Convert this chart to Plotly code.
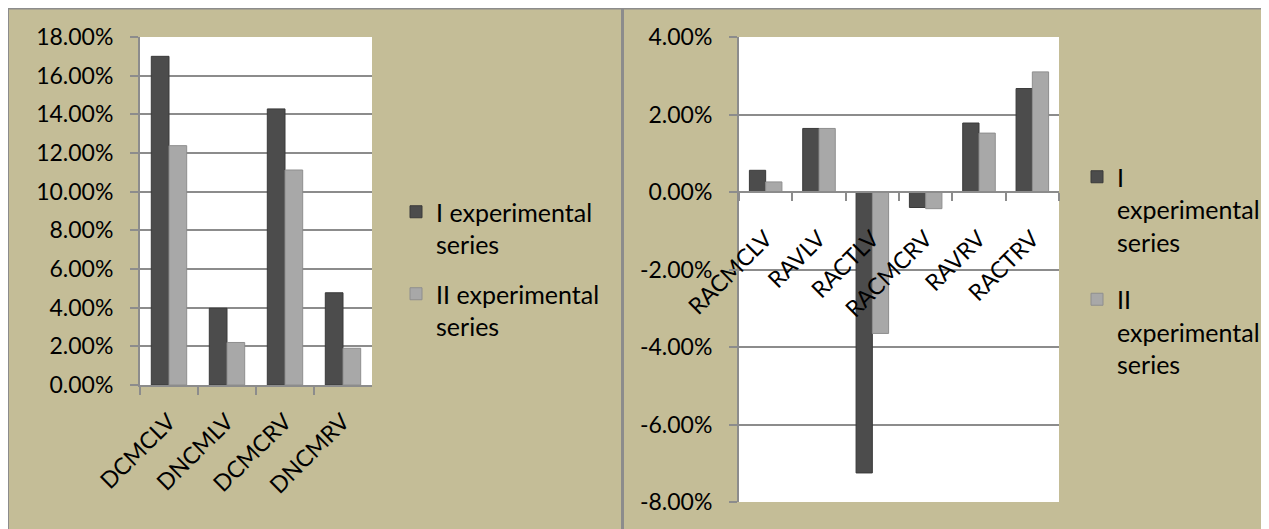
import plotly.graph_objects as go

# page body has an 8px default margin; figure occupies the rest of the window
OFF = 8
W, H = 1269 - OFF, 529 - OFF

# ---- data ----
left_categories = ["DCMCLV", "DNCMLV", "DCMCRV", "DNCMRV"]
left_series_1 = [17.00, 3.97, 14.28, 4.77]
left_series_2 = [12.38, 2.20, 11.12, 1.90]

right_categories = ["RACMCLV", "RAVLV", "RACTLV", "RACMCRV", "RAVRV", "RACTRV"]
right_series_1 = [0.56, 1.64, -7.25, -0.40, 1.78, 2.67]
right_series_2 = [0.26, 1.64, -3.65, -0.43, 1.52, 3.10]

left_tickvals = [0, 2, 4, 6, 8, 10, 12, 14, 16, 18]
left_ticktext = ["0.00%", "2.00%", "4.00%", "6.00%", "8.00%", "10.00%",
                 "12.00%", "14.00%", "16.00%", "18.00%"]
right_tickvals = [-8, -6, -4, -2, 0, 2, 4]
right_ticktext = ["-8.00%", "-6.00%", "-4.00%", "-2.00%", "0.00%", "2.00%", "4.00%"]

series_names_left = ["I experimental<br>series", "II experimental<br>series"]
series_names_right = ["I<br>experimental<br>series", "II<br>experimental<br>series"]

# ---- styling ----
TAN = "#C4BD97"
GRID = "#8C8C8C"
DARK = "#4C4C4C"
LIGHT = "#A8A8A8"
FONT = "Lato"
FS = 23
LFS = 25

def px_x(p):
    """screen pixel -> paper fraction"""
    return (p - OFF) / W

def px_y(p):
    return 1 - (p - OFF) / H

fig = go.Figure()

fig.add_trace(go.Bar(x=left_categories, y=left_series_1, name=series_names_left[0],
                     marker=dict(color=DARK, line=dict(color="#3A3A3A", width=1)),
                     xaxis="x", yaxis="y", legend="legend", legendgroup="L1"))
fig.add_trace(go.Bar(x=left_categories, y=left_series_2, name=series_names_left[1],
                     marker=dict(color=LIGHT, line=dict(color="#8E8E8E", width=1)),
                     xaxis="x", yaxis="y", legend="legend", legendgroup="L2"))
fig.add_trace(go.Bar(x=right_categories, y=right_series_1, name=series_names_right[0],
                     marker=dict(color=DARK, line=dict(color="#3A3A3A", width=1)),
                     xaxis="x2", yaxis="y2", legend="legend2", legendgroup="R1"))
fig.add_trace(go.Bar(x=right_categories, y=right_series_2, name=series_names_right[1],
                     marker=dict(color=LIGHT, line=dict(color="#8E8E8E", width=1)),
                     xaxis="x2", yaxis="y2", legend="legend2", legendgroup="R2"))

left_y_dom = [px_y(385), px_y(37)]
right_y_dom = [px_y(502), px_y(37)]
right_range = [-8, 4]
zero_pos = right_y_dom[0] + (0 - right_range[0]) / (right_range[1] - right_range[0]) * (right_y_dom[1] - right_y_dom[0])

axis_common = dict(
    showline=True, linecolor=GRID, linewidth=2,
    ticks="outside", tickcolor=GRID, tickwidth=2, ticklen=8,
    tickfont=dict(family=FONT, size=FS, color="#000000"),
    automargin=False,
)

fig.update_layout(
    width=W, height=H,
    margin=dict(l=0, r=0, t=0, b=0),
    paper_bgcolor=TAN,
    plot_bgcolor="white",
    font=dict(family=FONT, size=FS, color="#000000"),
    barmode="group",
    bargap=0.39,
    bargroupgap=0.0,
    showlegend=True,
    xaxis=dict(domain=[px_x(140), px_x(372)], anchor="y", tickson="boundaries",
               tickangle=-45, ticklabelstandoff=12, showgrid=False, **axis_common),
    yaxis=dict(domain=left_y_dom, anchor="x", range=[0, 18], tickvals=left_tickvals,
               ticktext=left_ticktext, showgrid=True, gridcolor=GRID, gridwidth=2,
               zeroline=False, ticklabelstandoff=12, **axis_common),
    xaxis2=dict(domain=[px_x(739), px_x(1059)], anchor="free", position=zero_pos,
                tickson="boundaries", tickangle=-45, ticklabelstandoff=23,
                showgrid=False, **axis_common),
    yaxis2=dict(domain=right_y_dom, anchor="x2", range=right_range, tickvals=right_tickvals,
                ticktext=right_ticktext, showgrid=True, gridcolor=GRID, gridwidth=2,
                zeroline=False, ticklabelstandoff=12, **axis_common),
    legend=dict(x=px_x(396), y=px_y(189), xanchor="left", yanchor="top",
                bgcolor="rgba(0,0,0,0)", font=dict(family=FONT, size=LFS),
                tracegroupgap=14, itemwidth=30, valign="top"),
    legend2=dict(x=px_x(1077), y=px_y(154), xanchor="left", yanchor="top",
                 bgcolor="rgba(0,0,0,0)", font=dict(family=FONT, size=LFS),
                 tracegroupgap=22, itemwidth=30, valign="top"),
    shapes=[
        # panel borders
        dict(type="line", xref="paper", yref="paper", x0=px_x(8), x1=px_x(8),
             y0=0, y1=px_y(7), line=dict(color=GRID, width=2), layer="below"),
        dict(type="line", xref="paper", yref="paper", x0=px_x(7), x1=px_x(1266),
             y0=px_y(8.5), y1=px_y(8.5), line=dict(color=GRID, width=2), layer="below"),
        dict(type="line", xref="paper", yref="paper", x0=px_x(622.5), x1=px_x(622.5),
             y0=0, y1=px_y(8), line=dict(color=GRID, width=3), layer="below"),
        dict(type="line", xref="paper", yref="paper", x0=px_x(1265.5), x1=px_x(1265.5),
             y0=0, y1=px_y(8), line=dict(color=GRID, width=2), layer="below"),
        dict(type="rect", xref="paper", yref="paper", x0=px_x(1266.5), x1=1.01,
             y0=-0.01, y1=1.01, fillcolor="white", line=dict(width=0), layer="below"),
    ],
)

fig.write_html("out.html")
